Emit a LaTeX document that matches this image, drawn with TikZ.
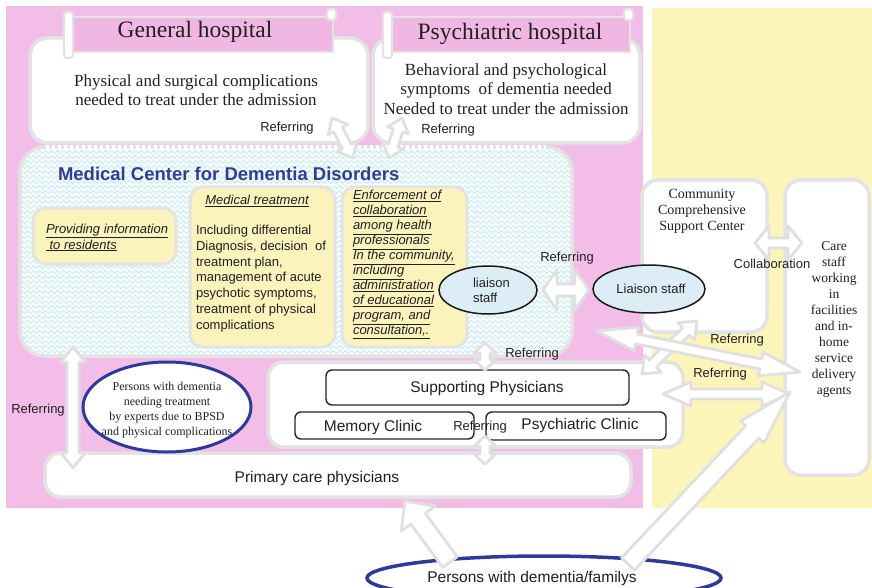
\documentclass[tikz,border=0pt]{standalone}
\usepackage{fontspec}
\setmainfont{Liberation Serif}
\setsansfont{Liberation Sans}
\usetikzlibrary{calc,shapes.geometric,decorations.pathmorphing}

\definecolor{bgpink}{HTML}{F2BEE7}
\definecolor{bannerpink}{HTML}{F0B7E3}
\definecolor{bgyellow}{HTML}{FBF5B9}
\definecolor{boxyellow}{HTML}{FBF3BC}
\definecolor{framegrey}{HTML}{E3E3E3}
\definecolor{arrowgrey}{HTML}{E0E0E0}
\definecolor{zigcyan}{HTML}{B5E3EC}
\definecolor{zigback}{HTML}{F7FCFD}
\definecolor{titleblue}{HTML}{2E3D98}
\definecolor{ringblue}{HTML}{2C3B9B}
\definecolor{liaisonblue}{HTML}{DCEDF5}
\definecolor{ink}{HTML}{231F20}

\newcommand\uln[1]{\underline{#1}}

% block arrow with two heads: from, to, shaft half width, head half width, head length
\newcommand\dblarrow[5]{%
  \path let \p1=($(#2)-(#1)$) in \pgfextra{%
    \pgfmathsetmacro\BAtmplen{veclen(\x1,\y1)}%
    \pgfmathsetmacro\BAtmpang{atan2(\y1,\x1)}%
    \global\let\BAlen\BAtmplen\global\let\BAang\BAtmpang};
  \draw[blockarrow,shift={(#1)},rotate=\BAang]
    (0,0) -- (#5,#4) -- (#5,#3) -- (\BAlen-#5,#3) -- (\BAlen-#5,#4) -- (\BAlen,0)
    -- (\BAlen-#5,-#4) -- (\BAlen-#5,-#3) -- (#5,-#3) -- (#5,-#4) -- cycle;
}
% block arrow with one head at the second point
\newcommand\sglarrow[5]{%
  \path let \p1=($(#2)-(#1)$) in \pgfextra{%
    \pgfmathsetmacro\BAtmplen{veclen(\x1,\y1)}%
    \pgfmathsetmacro\BAtmpang{atan2(\y1,\x1)}%
    \global\let\BAlen\BAtmplen\global\let\BAang\BAtmpang};
  \draw[blockarrow,shift={(#1)},rotate=\BAang]
    (0,#3) -- (\BAlen-#5,#3) -- (\BAlen-#5,#4) -- (\BAlen,0)
    -- (\BAlen-#5,-#4) -- (\BAlen-#5,-#3) -- (0,-#3) -- cycle;
}

\begin{document}
\begin{tikzpicture}[x=1pt,y=-1pt,
  every node/.style={inner sep=0pt, outer sep=0pt, text=ink},
  hospframe/.style={draw=framegrey, line width=3.5pt, fill=white, rounded corners=18pt},
  banner/.style={draw=framegrey, line width=2.5pt, fill=bannerpink},
  scrollend/.style={draw=framegrey, line width=2.2pt, fill=white, rounded corners=3pt},
  yelbox/.style={draw=framegrey, line width=3pt, fill=boxyellow, rounded corners=13pt},
  whitebox/.style={draw=framegrey, line width=3.5pt, fill=white, rounded corners=16pt},
  blackbox/.style={draw=black!85, line width=1.4pt, fill=white, rounded corners=6pt},
  liaison/.style={ellipse, draw=black!90, line width=1.5pt, fill=liaisonblue},
  ring/.style={ellipse, draw=ringblue, line width=3pt, fill=white},
  blockarrow/.style={draw=arrowgrey, line width=2.8pt, fill=white, line join=round},
  zigline/.style={draw=zigcyan, line width=0.45pt, decorate,
                  decoration={zigzag, segment length=6pt, amplitude=1.6pt}},
  lbl/.style={font=\sffamily\fontsize{13}{15}\selectfont},
  sans/.style={font=\sffamily\fontsize{13}{15.8}\selectfont},
  bigsans/.style={font=\sffamily\fontsize{15.5}{18}\selectfont},
  serifbody/.style={font=\fontsize{17}{19.5}\selectfont},
  seriftitle/.style={font=\fontsize{23.5}{27}\selectfont},
]
\useasboundingbox (0,0) rectangle (872,588);
\fill[white] (0,0) rectangle (872,588);
\fill[bgpink] (6,6) rectangle (643,508);
\fill[bgyellow] (652,8) rectangle (872,508);

% ---- hospitals ----
\node[hospframe, minimum width=338, minimum height=105] (gh) at (199,90.5) {};
\node[hospframe, minimum width=267, minimum height=105] (ph) at (506.5,90.5) {};

\node[banner, minimum width=261, minimum height=35] (ghb) at (202.5,34.5) {};
\draw[scrollend] (64,12) rectangle (73,58);
\draw[scrollend] (327,9) rectangle (336,20);
\node[banner, minimum width=240, minimum height=35] (phb) at (510,34.5) {};
\draw[scrollend] (383,12) rectangle (392,58);
\draw[scrollend] (624,9) rectangle (633,20);

\node[seriftitle] (ght) at (195,32) {General hospital};
\node[seriftitle] (pht) at (510,34) {Psychiatric hospital};

\node[serifbody, align=center] (ghx) at (196,90) {Physical and surgical complications\\needed to treat under the admission};
\node[serifbody, align=center] (phx) at (506,89) {Behavioral and psychological\\symptoms\ \ of dementia needed\\Needed to treat under the admission};

% ---- medical center: pale ground, fine cyan zigzag, grey frame ----
\node[fill=zigback, rounded corners=25pt, minimum width=552, minimum height=209] (mc) at (296,251.5) {};
\begin{scope}
  \clip[rounded corners=25pt] (mc.north west) rectangle (mc.south east);
  \foreach \k in {0,...,42}
    \draw[zigline] ($(mc.north west)+(0,\k*5)$) -- ($(mc.north east)+(0,\k*5)$);
\end{scope}
\draw[draw=framegrey, line width=3.5pt, rounded corners=25pt] (mc.north west) rectangle (mc.south east);
\draw[white, line width=4pt, dash pattern=on 3pt off 3pt]
  ([xshift=26pt]mc.north west) -- ([xshift=-26pt]mc.north east);

\node[anchor=west, font=\sffamily\bfseries\fontsize{18.5}{22}\selectfont, text=titleblue]
  (mct) at (58,174) {Medical Center for Dementia Disorders};

\node[yelbox, minimum width=143, minimum height=56] (prov) at (104.5,236) {};
\node[yelbox, minimum width=145, minimum height=160] (medt) at (262.5,267) {};
\node[yelbox, minimum width=125, minimum height=160] (enf) at (404.5,267) {};

\node[sans, anchor=west, align=left, font=\sffamily\itshape\fontsize{13}{16}\selectfont]
  (provx) at (46,237.5) {\uln{Providing information}\\\uln{\ to residents}};
\node[sans, font=\sffamily\itshape\fontsize{13}{16}\selectfont] (mtht) at (257,201) {\uln{Medical treatment}};
\node[sans, anchor=west, align=left] (mtx) at (196,278.5)
  {Including differential\\Diagnosis, decision\ \ of\\treatment plan,\\management of acute\\psychotic symptoms,\\treatment of physical\\complications};
\node[anchor=west, align=left, font=\sffamily\itshape\fontsize{13}{15}\selectfont] (enfx) at (353,264.5)
  {\uln{Enforcement of}\\\uln{collaboration}\\\uln{among health}\\\uln{professionals}\\\uln{In the community,}\\\uln{including}\\\uln{administration}\\\uln{of educational}\\\uln{program, and}\\\uln{consultation,.}};

\node[liaison, minimum width=98, minimum height=48] (lia) at (488,290) {};
\node[sans, anchor=west, align=left, font=\sffamily\fontsize{13}{15}\selectfont] (liax) at (473,290.5) {liaison\\staff};

% ---- community side ----
\node[whitebox, minimum width=125, minimum height=152] (ccs) at (704.5,256) {};
\node[whitebox, minimum width=84, minimum height=295] (care) at (827,327.5) {};
\node[align=center, font=\fontsize{14}{16}\selectfont] (ccsx) at (702,211) {Community\\Comprehensive\\Support Center};
\node[align=center, font=\fontsize{13.5}{15.9}\selectfont] (carex) at (834,319.5)
  {Care\\staff\\working\\in\\facilities\\and in-\\home\\service\\delivery\\agents};

\node[liaison, minimum width=112, minimum height=48] (lia2) at (649,289) {};
\node[sans] (lia2x) at (651,289) {Liaison staff};

% ---- physicians ----
\node[whitebox, minimum width=415, minimum height=85] (spc) at (475.5,404.5) {};
\node[blackbox, minimum width=303, minimum height=35] (sp) at (477.5,387.5) {};
\node[bigsans] (spx) at (487,388) {Supporting Physicians};
\node[blackbox, minimum width=179, minimum height=27] (mem) at (384.5,425.5) {};
\node[bigsans] (memx) at (373,427) {Memory Clinic};
\node[blackbox, minimum width=180, minimum height=28] (psc) at (576,426) {};
\node[bigsans] (pscx) at (580,425) {Psychiatric Clinic};

\node[whitebox, minimum width=586, minimum height=44] (pcp) at (338,475) {};
\node[bigsans] (pcpx) at (317,478) {Primary care physicians};

\node[ring, minimum width=168, minimum height=90] (pwd) at (167,407) {};
\node[align=center, font=\fontsize{12}{14.8}\selectfont] (pwdx) at (167,410)
  {Persons with dementia\\needing treatment\\by experts due to BPSD\\and physical complications};

\node[ring, line width=3.5pt, minimum width=354, minimum height=44] (fam) at (544,578) {};
\node[bigsans] (famx) at (532,578) {Persons with dementia/familys};

% ---- connectors ----
\coordinate (vL1) at (353,158); \coordinate (vL2) at (332,118);
\coordinate (vR1) at (389,158); \coordinate (vR2) at (402,118);
\coordinate (lia1) at (543,290); \coordinate (lia2e) at (589,290);
\coordinate (col1) at (755,243); \coordinate (col2) at (802,243);
\coordinate (sp1) at (485,343); \coordinate (sp2) at (485,370);
\coordinate (pc1) at (485,436); \coordinate (pc2) at (485,464);
\coordinate (lf1) at (73,347); \coordinate (lf2) at (73,468);
\coordinate (cs1) at (642,374); \coordinate (cs2) at (697,321);
\coordinate (rl1) at (597,331); \coordinate (rl2) at (800,372);
\coordinate (hz1) at (663,394); \coordinate (hz2) at (790,394);
\coordinate (bl1) at (450,562); \coordinate (bl2) at (405,501);
\coordinate (br1) at (628,564); \coordinate (br2) at (790,392);

\dblarrow{vL1}{vL2}{5}{11}{13}
\dblarrow{vR1}{vR2}{5}{11}{13}
\dblarrow{lia1}{lia2e}{6}{20}{14}
\dblarrow{col1}{col2}{5}{17}{14}
\dblarrow{sp1}{sp2}{5}{11}{10}
\dblarrow{pc1}{pc2}{5}{11}{10}
\dblarrow{lf1}{lf2}{6}{12}{15}
\dblarrow{cs1}{cs2}{5}{12}{15}
\dblarrow{rl1}{rl2}{5}{12}{40}
\dblarrow{hz1}{hz2}{5}{12}{28}
\sglarrow{bl1}{bl2}{9}{21}{22}
\sglarrow{br1}{br2}{9}{16}{55}

% ---- labels ----
\node[lbl] (r1) at (287,128) {Referring};
\node[lbl] (r2) at (448,130) {Referring};
\node[lbl] (r3) at (567,258) {Referring};
\node[lbl] (r4) at (532,354) {Referring};
\node[lbl] (r5) at (480,427) {Referring};
\node[lbl] (r6) at (38,410) {Referring};
\node[lbl] (r7) at (737,340) {Referring};
\node[lbl] (r8) at (720,374) {Referring};
\node[lbl] (c1) at (772,264) {Collaboration};
\end{tikzpicture}
\end{document}
